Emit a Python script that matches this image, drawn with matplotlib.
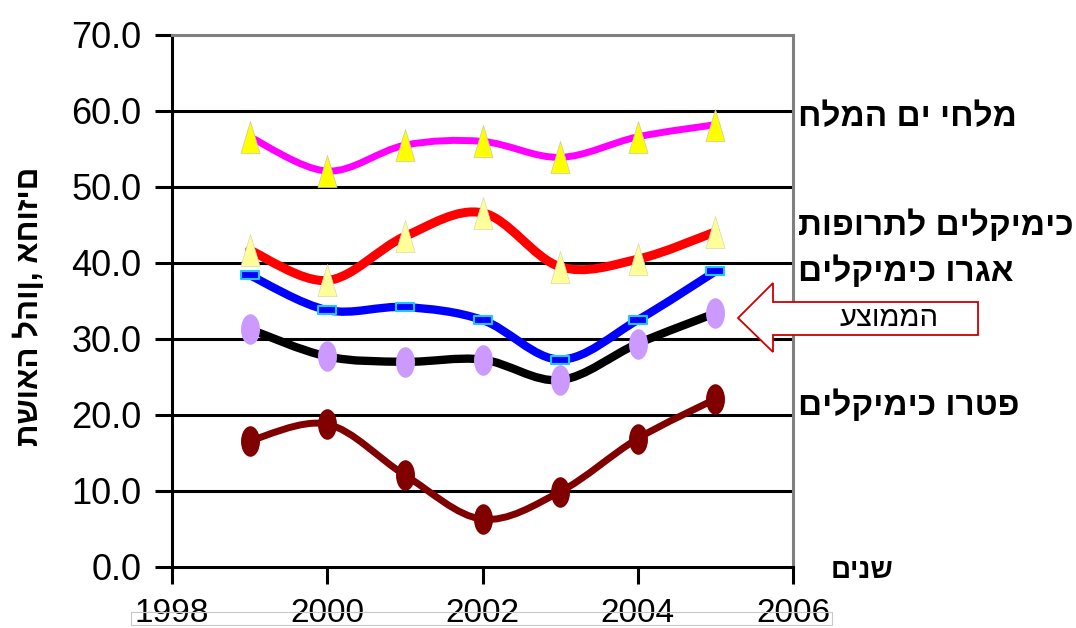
import numpy as np
import matplotlib
matplotlib.use("Agg")
import matplotlib.pyplot as plt
from matplotlib.path import Path
from matplotlib.patches import PathPatch, Polygon, Rectangle

plt.rcParams['font.family'] = ['Liberation Sans', 'DejaVu Sans']

# return on equity by sector, per year
years = [1999, 2000, 2001, 2002, 2003, 2004, 2005]
dead_sea_salts = [56.6, 52.1, 55.5, 56.0, 53.9, 56.6, 58.2]
pharma_chem = [41.7, 37.7, 43.5, 46.6, 39.5, 40.5, 44.1]
agro_chem = [38.4, 33.8, 34.2, 32.5, 27.3, 32.5, 38.9]
average = [31.3, 27.7, 27.0, 27.3, 24.6, 29.4, 33.4]
petro_chem = [16.6, 18.8, 12.1, 6.3, 9.9, 16.9, 22.1]

y_ticks = [0, 10, 20, 30, 40, 50, 60, 70]
x_ticks = [1998, 2000, 2002, 2004, 2006]

W, H = 1076, 628


def rtl(s):
    # matplotlib has no bidi support, so flip Hebrew for display
    return s[::-1]


def fig_xy(x, y):
    return x / W, 1 - y / H


def smooth_path(xs, ys):
    # Catmull-Rom style Bezier through the points (spreadsheet "smoothed line")
    pts = np.column_stack([xs, ys]).astype(float)
    n = len(pts)
    verts = [pts[0]]
    codes = [Path.MOVETO]
    for i in range(n - 1):
        p0 = pts[i - 1] if i > 0 else pts[i]
        p1 = pts[i]
        p2 = pts[i + 1]
        p3 = pts[i + 2] if i + 2 < n else pts[i + 1]
        verts += [p1 + (p2 - p0) / 6, p2 - (p3 - p1) / 6, p2]
        codes += [Path.CURVE4] * 3
    return Path(verts, codes)


tri = Path([(0, 1), (-0.6, -1), (0.6, -1), (0, 1)],
           [Path.MOVETO, Path.LINETO, Path.LINETO, Path.CLOSEPOLY])
circ = Path.unit_circle()
oval = Path(circ.vertices * [0.62, 1.0], circ.codes)
bar = Path([(-1, -0.38), (1, -0.38), (1, 0.38), (-1, 0.38), (-1, -0.38)],
           [Path.MOVETO, Path.LINETO, Path.LINETO, Path.LINETO, Path.CLOSEPOLY])

fig = plt.figure(figsize=(W / 100, H / 100), dpi=100)
ax = fig.add_axes([172 / W, 61 / H, 621 / W, 532 / H])

ax.set_xlim(1998, 2006)
ax.set_ylim(0, 70)
ax.set_yticks(y_ticks)
ax.set_yticklabels([f"{v:.1f}" for v in y_ticks])
ax.set_xticks(x_ticks)
ax.set_xticklabels([str(v) for v in x_ticks])
ax.tick_params(axis='both', direction='out', length=12, width=2.2, color='black')
ax.tick_params(axis='y', labelsize=26, pad=10)
ax.tick_params(axis='x', labelsize=24, pad=10)

for v in y_ticks[1:-1]:
    ax.axhline(v, color='black', lw=2.2, zorder=1)

ax.spines['left'].set_color('black')
ax.spines['bottom'].set_color('black')
ax.spines['top'].set_color('#808080')
ax.spines['right'].set_color('#808080')
for s in ax.spines.values():
    s.set_linewidth(2.2)

series = [
    (petro_chem, '#800000', 5.0, oval, 22, '#800000', '#800000', 0),
    (average, 'black', 6.0, oval, 22, '#CC99FF', '#CC99FF', 0),
    (agro_chem, '#0000FF', 6.0, bar, 13.5, '#0000FF', '#1EC8FF', 1.5),
    (pharma_chem, '#FF0000', 6.5, tri, 23, '#FFFF99', '#D8D8B0', 0.5),
    (dead_sea_salts, '#FF00FF', 5.0, tri, 23, '#FFFF00', '#C8C8A0', 0.5),
]
for i, (vals, col, lw, mk, ms, mfc, mec, mew) in enumerate(series):
    patch = PathPatch(smooth_path(years, vals), fill=False, edgecolor=col,
                      lw=lw, capstyle='round', joinstyle='round', zorder=3 + i)
    ax.add_patch(patch)
    ax.plot(years, vals, linestyle='none', marker=mk, markersize=ms,
            markerfacecolor=mfc, markeredgecolor=mec, markeredgewidth=mew,
            zorder=10 + i)

# series names at the right
labels = [
    ("מלחי ים המלח", 118),
    ("כימיקלים לתרופות", 226),
    ("אגרו כימיקלים", 272),
    ("פטרו כימיקלים", 406),
]
for txt, y in labels:
    fig.text(*fig_xy(798, y), rtl(txt), fontsize=24, fontweight='bold',
             ha='left', va='center')

fig.text(*fig_xy(862, 571), rtl("שנים"), fontsize=20, fontweight='bold',
         ha='center', va='center')

fig.text(*fig_xy(29, 306), "תשואה להון, אחוזים", fontsize=22.5,
         fontweight='bold', rotation=90, ha='center', va='center')

# callout arrow pointing at the average line
arrow_px = [(738, 318), (773, 283), (773, 302), (978, 302), (978, 335),
            (773, 335), (773, 352)]
fig.patches.append(Polygon([fig_xy(x, y) for x, y in arrow_px], closed=True,
                           transform=fig.transFigure, facecolor='white',
                           edgecolor='#CC0000', lw=1.3, zorder=20))
fig.text(*fig_xy(889, 318), rtl("הממוצע"), fontsize=21, ha='center',
         va='center', zorder=21)

# faint frame around the year labels
x0, y0 = fig_xy(131, 625)
fig.patches.append(Rectangle((x0, y0), (832 - 131) / W, 13 / H,
                             transform=fig.transFigure, fill=False,
                             edgecolor='#C8C8C8', lw=0.8, zorder=0))

fig.savefig("out.png", dpi=100)
